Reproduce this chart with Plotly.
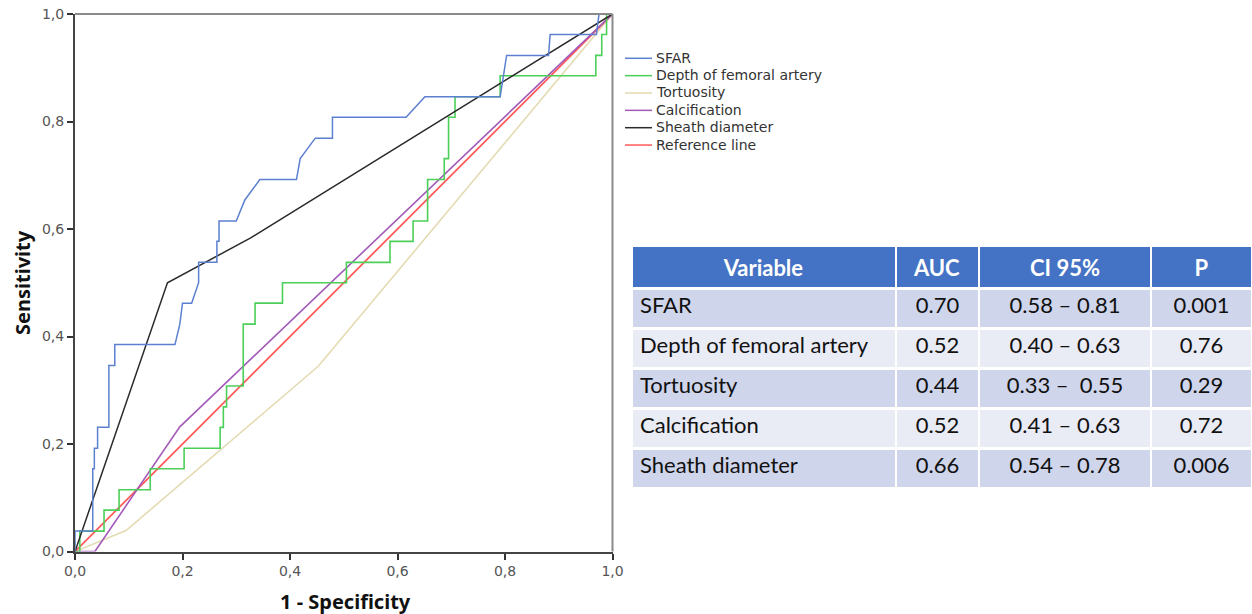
import plotly.graph_objects as go

W, H = 1252, 614

# ROC curve coordinates: false positive rate (1 - specificity) and sensitivity
sfar_fpr = [0, 0, 0.033, 0.033, 0.036, 0.036, 0.042, 0.042, 0.063, 0.063, 0.074, 0.074,
            0.186, 0.195, 0.2, 0.217, 0.23, 0.23, 0.264, 0.264, 0.268, 0.268, 0.30,
            0.316, 0.344, 0.412, 0.419, 0.447, 0.479, 0.479, 0.616, 0.651, 0.791,
            0.803, 0.881, 0.884, 0.97, 0.975, 1.0]
sfar_tpr = [0, 0.038, 0.038, 0.154, 0.154, 0.192, 0.192, 0.231, 0.231, 0.346, 0.346, 0.385,
            0.385, 0.423, 0.462, 0.462, 0.5, 0.538, 0.538, 0.577, 0.577, 0.615, 0.615,
            0.654, 0.692, 0.692, 0.731, 0.769, 0.769, 0.808, 0.808, 0.846, 0.846,
            0.923, 0.923, 0.962, 0.962, 1.0, 1.0]

depth_fpr = [0, 0.009, 0.009, 0.054, 0.054, 0.082, 0.082, 0.14, 0.14, 0.203, 0.203, 0.27,
             0.27, 0.276, 0.276, 0.282, 0.282, 0.313, 0.313, 0.335, 0.335, 0.386, 0.386,
             0.505, 0.505, 0.586, 0.586, 0.629, 0.629, 0.656, 0.656, 0.687, 0.687, 0.695,
             0.695, 0.707, 0.707, 0.791, 0.791, 0.969, 0.969, 0.98, 0.98, 0.989, 0.989, 1.0]
depth_tpr = [0, 0, 0.038, 0.038, 0.077, 0.077, 0.115, 0.115, 0.154, 0.154, 0.192, 0.192,
             0.231, 0.231, 0.269, 0.269, 0.308, 0.308, 0.423, 0.423, 0.462, 0.462, 0.5,
             0.5, 0.538, 0.538, 0.577, 0.577, 0.615, 0.615, 0.692, 0.692, 0.731, 0.731,
             0.808, 0.808, 0.846, 0.846, 0.885, 0.885, 0.923, 0.923, 0.962, 0.962, 1.0, 1.0]

tort_fpr = [0, 0.095, 0.453, 1.0]
tort_tpr = [0, 0.039, 0.345, 1.0]

calc_fpr = [0, 0.037, 0.195, 1.0]
calc_tpr = [0, 0, 0.232, 1.0]

sheath_fpr = [0, 0.172, 0.326, 1.0]
sheath_tpr = [0, 0.5, 0.583, 1.0]

ref_fpr = [0, 1]
ref_tpr = [0, 1]

series_names = ["SFAR", "Depth of femoral artery", "Tortuosity", "Calcification",
                "Sheath diameter", "Reference line"]
series_colors = ["#5c7fd0", "#4ccf58", "#e3dbb2", "#a35ab8", "#2b2b2b", "#ff5a5a"]
series_x = [sfar_fpr, depth_fpr, tort_fpr, calc_fpr, sheath_fpr, ref_fpr]
series_y = [sfar_tpr, depth_tpr, tort_tpr, calc_tpr, sheath_tpr, ref_tpr]
series_widths = [1.5, 1.6, 1.6, 1.6, 1.5, 1.8]
draw_order = [2, 5, 3, 1, 4, 0]

tick_vals = [0, 0.2, 0.4, 0.6, 0.8, 1.0]
tick_text = ["0,0", "0,2", "0,4", "0,6", "0,8", "1,0"]

# Summary table
tbl_variable = ["SFAR", "Depth of femoral artery", "Tortuosity", "Calcification", "Sheath diameter"]
tbl_auc = ["0.70", "0.52", "0.44", "0.52", "0.66"]
tbl_ci = ["0.58 \u2013 0.81", "0.40 \u2013 0.63", "0.33 \u2013  0.55", "0.41 \u2013 0.63", "0.54 \u2013 0.78"]
tbl_p = ["0.001", "0.76", "0.29", "0.72", "0.006"]
tbl_header = ["Variable", "AUC", "CI 95%", "P"]


def px_x(p):
    return p / W


def px_y(p):
    return 1 - p / H


# plot area in pixels
PL, PR, PT, PB = 75, 612.5, 14, 551.5

fig = go.Figure()

for i in draw_order:
    fig.add_trace(go.Scatter(
        x=series_x[i], y=series_y[i], mode="lines", name=series_names[i],
        line=dict(color=series_colors[i], width=series_widths[i]),
        showlegend=False, hoverinfo="skip",
    ))

fig.add_trace(go.Table(
    domain=dict(x=[px_x(632), 1.0], y=[px_y(498), px_y(245.5)]),
    columnwidth=[264, 83, 172, 101],
    header=dict(
        values=[f"<b>{h}</b>" for h in tbl_header],
        fill_color="#4472c4", line=dict(color="white", width=2.5),
        align="center", height=38,
        font=dict(family="Lato", size=22, color="white"),
    ),
    cells=dict(
        values=[tbl_variable, tbl_auc, tbl_ci, tbl_p],
        fill_color=[["#cfd5ea", "#e9ebf5", "#cfd5ea", "#e9ebf5", "#cfd5ea"]] * 4,
        line=dict(color="white", width=2.5),
        align=["left", "center", "center", "center"], height=40,
        font=dict(family="Lato", size=22, color="#111111"),
    ),
))

# legend drawn as line samples and labels to the right of the plot
shapes = []
annotations = []
for i, (name, col) in enumerate(zip(series_names, series_colors)):
    yy = 58.3 + i * 17.35
    shapes.append(dict(type="line", xref="paper", yref="paper",
                       x0=px_x(625), x1=px_x(652), y0=px_y(yy), y1=px_y(yy),
                       line=dict(color=col, width=1.5)))
    annotations.append(dict(text=name, xref="paper", yref="paper", x=px_x(654), y=px_y(yy - 0.5),
                            xanchor="left", yanchor="middle", showarrow=False,
                            font=dict(family="DejaVu Sans", size=14, color="#333333")))

# top and right frame lines
shapes.append(dict(type="line", xref="x domain", yref="y domain", x0=0, x1=1, y0=1, y1=1,
                   line=dict(color="#8a8a8a", width=2)))
shapes.append(dict(type="line", xref="x domain", yref="y domain", x0=1, x1=1, y0=0, y1=1,
                   line=dict(color="#8a8a8a", width=2)))

# axis titles
annotations.append(dict(text="<b>1 - Specificity</b>", xref="paper", yref="paper",
                        x=px_x(345), y=px_y(601), xanchor="center", yanchor="middle",
                        showarrow=False, font=dict(family="Noto Sans", size=20, color="#111111")))
annotations.append(dict(text="<b>Sensitivity</b>", xref="paper", yref="paper",
                        x=px_x(22), y=px_y(283), xanchor="center", yanchor="middle",
                        textangle=-90, showarrow=False,
                        font=dict(family="Noto Sans", size=20, color="#111111")))

axis_common = dict(
    range=[0, 1], tickvals=tick_vals, ticktext=tick_text, showgrid=False, zeroline=False,
    showline=True, linecolor="#444444", linewidth=2, ticks="outside", ticklen=6,
    tickwidth=1.5, tickcolor="#333333", automargin=False,
    tickfont=dict(family="DejaVu Sans", size=14, color="#555555"), fixedrange=True,
)

fig.update_layout(
    width=W, height=H, margin=dict(l=0, r=0, t=0, b=0),
    paper_bgcolor="white", plot_bgcolor="white",
    xaxis=dict(domain=[px_x(PL), px_x(PR)], **axis_common),
    yaxis=dict(domain=[px_y(PB), px_y(PT)], **axis_common),
    shapes=shapes, annotations=annotations, showlegend=False,
)

fig.write_html("out.html")
